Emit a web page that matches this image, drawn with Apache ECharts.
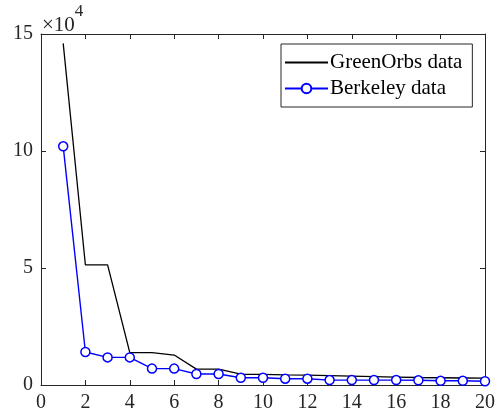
<!DOCTYPE html>
<html>
<head>
<meta charset="utf-8">
<script src="https://cdn.jsdelivr.net/npm/echarts@6/dist/echarts.min.js"></script>
<style>html,body{margin:0;padding:0;background:#fff}#c{width:503px;height:417px}</style>
</head>
<body>
<div id="c"></div>
<script>
var xValues = [1,2,3,4,5,6,7,8,9,10,11,12,13,14,15,16,17,18,19,20];
var greenOrbs = [146000,51300,51300,13800,13800,12800,6800,6800,4600,4500,4300,4200,4000,3800,3600,3400,3200,3100,3000,2900];
var berkeley = [102000,14100,11800,11800,7000,7000,4700,4700,3100,3100,2700,2700,2100,2100,2100,2100,2000,1800,1800,1600];
var seriesNames = ['GreenOrbs data', 'Berkeley data'];
var xTicks = [0,2,4,6,8,10,12,14,16,18,20];
var yTickLabels = ['0','5','10','15'];

var font = 'Liberation Serif';
var axisColor = '#262626';
var chart = echarts.init(document.getElementById('c'));
function pairs(v){ return xValues.map(function(x,i){ return [x, v[i]]; }); }
var tickStyle = {show:true, inside:true, length:5, lineStyle:{color:axisColor, width:1}};
chart.setOption({
  animation:false,
  backgroundColor:'#fff',
  grid:{left:41, right:18, top:34, bottom:32, containLabel:false},
  xAxis:[
    {type:'value', min:0, max:20, interval:2, position:'bottom',
     axisLine:{show:true, onZero:false, lineStyle:{color:axisColor, width:1}},
     axisTick:tickStyle, splitLine:{show:false},
     axisLabel:{color:axisColor, fontFamily:font, fontSize:20, margin:8,
       formatter:function(v){ return xTicks.indexOf(v) >= 0 ? String(v) : ''; }}},
    {type:'value', min:0, max:20, interval:2, position:'top',
     axisLine:{show:true, onZero:false, lineStyle:{color:axisColor, width:1}},
     axisTick:tickStyle, axisLabel:{show:false}, splitLine:{show:false}}
  ],
  yAxis:[
    {type:'value', min:0, max:150000, interval:50000, position:'left',
     axisLine:{show:true, onZero:false, lineStyle:{color:axisColor, width:1}},
     axisTick:tickStyle, splitLine:{show:false},
     axisLabel:{color:axisColor, fontFamily:font, fontSize:20, margin:8,
       formatter:function(v){ return yTickLabels[Math.round(v/50000)]; }}},
    {type:'value', min:0, max:150000, interval:50000, position:'right',
     axisLine:{show:true, onZero:false, lineStyle:{color:axisColor, width:1}},
     axisTick:tickStyle, axisLabel:{show:false}, splitLine:{show:false}}
  ],
  legend:{
    orient:'vertical', left:281, top:44, itemGap:5,
    itemWidth:43, itemHeight:12,
    padding:[8,10,8,3],
    borderColor:axisColor, borderWidth:1, backgroundColor:'#fff',
    textStyle:{fontFamily:font, fontSize:21, color:'#000', padding:[0,0,0,-3]},
    data:[{name:seriesNames[0], itemStyle:{opacity:0}}, {name:seriesNames[1]}]
  },
  graphic:[{
    type:'text', left:42, top:3,
    style:{rich:{
      a:{fontFamily:font, fontSize:21, fill:axisColor, padding:[12,0,0,0]},
      b:{fontFamily:font, fontSize:17, fill:axisColor, verticalAlign:'top'}
    }, text:'{a|×10}{b|4}'}
  }],
  series:[
    {name:seriesNames[0], type:'line', data:pairs(greenOrbs), showSymbol:false, symbol:'none',
     lineStyle:{color:'#000', width:1.3}, itemStyle:{color:'#000'}},
    {name:seriesNames[1], type:'line', data:pairs(berkeley), symbol:'circle', symbolSize:9,
     showSymbol:true,
     lineStyle:{color:'#0000ff', width:1.4},
     itemStyle:{color:'#fff', borderColor:'#0000ff', borderWidth:1.5}}
  ]
});
</script>
</body>
</html>
